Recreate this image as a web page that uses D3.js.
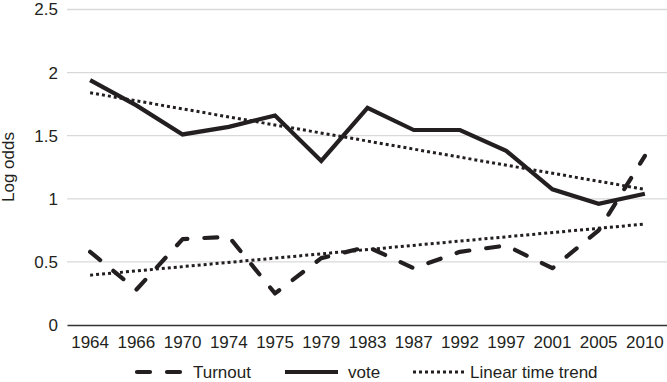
<!DOCTYPE html>
<html>
<head>
<meta charset="utf-8">
<script src="https://cdn.jsdelivr.net/npm/d3@7"></script>
<style>
  html, body { margin: 0; padding: 0; background: #fff; }
  #chart { width: 667px; height: 382px; }
  text { font-family: "Liberation Sans", Arial, Helvetica, sans-serif; fill: #231f20; }
</style>
</head>
<body>
<div id="chart"></div>
<script>
// Log odds of vote and turnout by election year, with linear time trends.
var years = ['1964', '1966', '1970', '1974', '1975', '1979', '1983',
             '1987', '1992', '1997', '2001', '2005', '2010'];
var turnout = [0.58, 0.28, 0.68, 0.70, 0.25, 0.53, 0.62,
               0.45, 0.58, 0.63, 0.45, 0.75, 1.34];
var vote = [1.94, 1.74, 1.51, 1.57, 1.66, 1.30, 1.72,
            1.545, 1.545, 1.38, 1.075, 0.96, 1.04];
// linear time trend end points (first year, last year)
var trendVote = [1.84, 1.075];
var trendTurnout = [0.395, 0.80];
var yTicks = [0, 0.5, 1, 1.5, 2, 2.5];
var legendLabels = ['Turnout', 'vote', 'Linear time trend'];

(function () {
    var W = 667, H = 382;
    var ink = '#231f20';
    var font = 17;

    var svg = d3.select('#chart').append('svg')
        .attr('width', W).attr('height', H)
        .attr('viewBox', '0 0 ' + W + ' ' + H);

    var x = d3.scaleBand().domain(years).range([67, 668]).padding(0);
    var y = d3.scaleLinear().domain([0, 2.5]).range([325, 9.5]);
    var cx = function (yr) { return x(yr) + x.bandwidth() / 2; };

    // Gridlines
    svg.append('g').selectAll('line')
        .data(yTicks.filter(function (v) { return v > 0; }))
        .join('line')
        .attr('x1', 67).attr('x2', 667)
        .attr('y1', function (v) { return y(v); })
        .attr('y2', function (v) { return y(v); })
        .attr('stroke', '#d9d9d9').attr('stroke-width', 1.3);

    // Axes
    var xAxisG = svg.append('g')
        .attr('transform', 'translate(0,' + y(0) + ')')
        .call(d3.axisBottom(x).tickSize(0).tickSizeOuter(0).tickPadding(11));
    xAxisG.select('.domain').attr('stroke', '#333').attr('stroke-width', 1.6);

    var yAxisG = svg.append('g')
        .attr('transform', 'translate(67,0)')
        .call(d3.axisLeft(y).tickValues(yTicks).tickSize(0).tickPadding(9)
            .tickFormat(function (d) { return String(d); }));
    yAxisG.select('.domain').remove();

    [xAxisG, yAxisG].forEach(function (ag) {
        ag.selectAll('text')
            .style('font-family', '"Liberation Sans", Arial, Helvetica, sans-serif')
            .style('font-size', font + 'px')
            .attr('fill', ink);
    });

    // Axis title
    svg.append('text')
        .attr('transform', 'translate(14,167) rotate(-90)')
        .attr('text-anchor', 'middle')
        .style('font-size', font + 'px')
        .text('Log odds');

    var line = d3.line()
        .x(function (d) { return cx(d[0]); })
        .y(function (d) { return y(d[1]); });

    var first = years[0], last = years[years.length - 1];
    var dotted = { dash: '3 3', width: 3, cap: 'butt' };
    var dashed = { dash: '13 17', width: 4.2, cap: 'round' };

    // Trend lines
    [trendVote, trendTurnout].forEach(function (t) {
        svg.append('path')
            .datum([[first, t[0]], [last, t[1]]])
            .attr('d', line)
            .attr('fill', 'none').attr('stroke', ink)
            .attr('stroke-width', dotted.width)
            .attr('stroke-dasharray', dotted.dash);
    });

    // Turnout (dashed)
    svg.append('path')
        .datum(years.map(function (yr, i) { return [yr, turnout[i]]; }))
        .attr('d', line)
        .attr('fill', 'none').attr('stroke', ink)
        .attr('stroke-width', dashed.width)
        .attr('stroke-dasharray', dashed.dash)
        .attr('stroke-linecap', dashed.cap)
        .attr('stroke-linejoin', 'round');

    // Vote (solid)
    svg.append('path')
        .datum(years.map(function (yr, i) { return [yr, vote[i]]; }))
        .attr('d', line)
        .attr('fill', 'none').attr('stroke', ink)
        .attr('stroke-width', 4.2)
        .attr('stroke-linejoin', 'miter');

    // Legend
    var legY = 372;
    var items = [
        { x0: 137, x1: 181, tx: 193, dash: dashed.dash, w: dashed.width, cap: 'round' },
        { x0: 285, x1: 338, tx: 348, dash: null, w: 4.2, cap: 'butt' },
        { x0: 413, x1: 464, tx: 470, dash: dotted.dash, w: dotted.width, cap: 'butt' }
    ];
    items.forEach(function (it, i) {
        svg.append('line')
            .attr('x1', it.x0).attr('x2', it.x1)
            .attr('y1', legY).attr('y2', legY)
            .attr('stroke', ink).attr('stroke-width', it.w)
            .attr('stroke-linecap', it.cap)
            .attr('stroke-dasharray', it.dash);
        svg.append('text')
            .attr('x', it.tx).attr('y', legY + 6)
            .style('font-size', font + 'px')
            .text(legendLabels[i]);
    });
})();
</script>
</body>
</html>
